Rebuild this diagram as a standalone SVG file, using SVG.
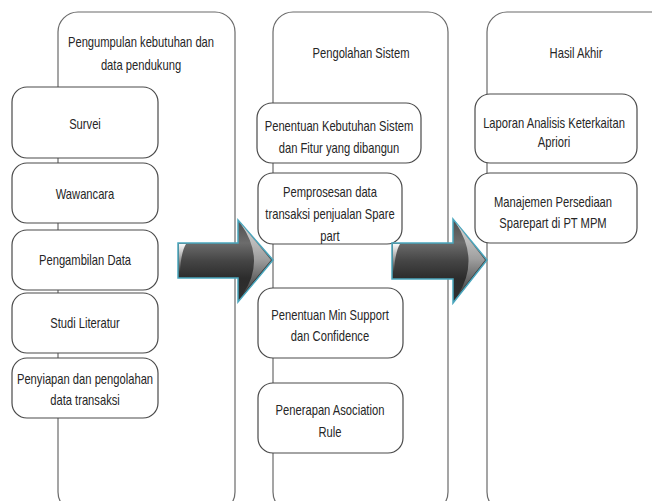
<svg xmlns="http://www.w3.org/2000/svg" width="652" height="501" viewBox="0 0 652 501">
  <style>
    .col { fill: #ffffff; stroke: #6a6a6a; stroke-width: 1.2; }
    .box { fill: #ffffff; stroke: #4a4a4a; stroke-width: 1.2; }
    text { font-family: "Liberation Sans", Arial, sans-serif; font-size: 14px; fill: #262626; text-anchor: middle; }
    .arrow { fill: url(#arrowFill); stroke: #4aa6bd; stroke-width: 1.5; stroke-linejoin: miter; }
    .streak { fill: url(#streakFill); }
    .crescent { fill: url(#crescentFill); }
  </style>
  <defs>
    <linearGradient id="arrowFill" x1="0" y1="0" x2="0" y2="1">
      <stop offset="0" stop-color="#4e4e4e"/>
      <stop offset="0.28" stop-color="#6c6c6c"/>
      <stop offset="0.5" stop-color="#454545"/>
      <stop offset="0.71" stop-color="#2c2c2c"/>
      <stop offset="1" stop-color="#303030"/>
    </linearGradient>
    <linearGradient id="streakFill" x1="0" y1="0" x2="0" y2="1">
      <stop offset="0" stop-color="#ffffff" stop-opacity="0.95"/>
      <stop offset="1" stop-color="#ffffff" stop-opacity="0"/>
    </linearGradient>
    <linearGradient id="crescentFill" x1="0" y1="0" x2="0" y2="1">
      <stop offset="0" stop-color="#dedede" stop-opacity="0.95"/>
      <stop offset="0.5" stop-color="#a8a8a8" stop-opacity="0.9"/>
      <stop offset="1" stop-color="#666666" stop-opacity="0.5"/>
    </linearGradient>
  </defs>

  <!-- columns -->
  <g id="col-pengumpulan">
    <rect class="col" x="58" y="12" width="177" height="500" rx="20" ry="20"/>
    <text transform="translate(141,47) scale(0.8,1)">Pengumpulan kebutuhan dan</text>
    <text transform="translate(141,70) scale(0.8,1)">data pendukung</text>
  </g>
  <g id="col-pengolahan">
    <rect class="col" x="273" y="12" width="175" height="500" rx="20" ry="20"/>
    <text transform="translate(361,58) scale(0.8,1)">Pengolahan Sistem</text>
  </g>
  <g id="col-hasil">
    <rect class="col" x="487" y="12" width="200" height="500" rx="20" ry="20"/>
    <text transform="translate(576,58) scale(0.8,1)">Hasil Akhir</text>
  </g>

  <!-- column 1 boxes -->
  <g id="survei">
    <rect class="box" x="12" y="87" width="146" height="71" rx="15" ry="15"/>
    <text transform="translate(85,129) scale(0.8,1)">Survei</text>
  </g>
  <g id="wawancara">
    <rect class="box" x="12" y="163" width="146" height="60" rx="15" ry="15"/>
    <text transform="translate(85,199) scale(0.8,1)">Wawancara</text>
  </g>
  <g id="pengambilan">
    <rect class="box" x="12" y="230" width="146" height="60" rx="15" ry="15"/>
    <text transform="translate(85,265) scale(0.8,1)">Pengambilan Data</text>
  </g>
  <g id="studi">
    <rect class="box" x="12" y="293" width="146" height="60" rx="15" ry="15"/>
    <text transform="translate(85,328) scale(0.8,1)">Studi Literatur</text>
  </g>
  <g id="penyiapan">
    <rect class="box" x="12" y="358" width="146" height="60" rx="15" ry="15"/>
    <text transform="translate(85,384) scale(0.8,1)">Penyiapan dan pengolahan</text>
    <text transform="translate(85,405) scale(0.8,1)">data transaksi</text>
  </g>

  <!-- column 2 boxes -->
  <g id="penentuan-kebutuhan">
    <rect class="box" x="257" y="103" width="164" height="60" rx="15" ry="15"/>
    <text transform="translate(339,131) scale(0.8,1)">Penentuan Kebutuhan Sistem</text>
    <text transform="translate(339,153) scale(0.8,1)">dan Fitur yang dibangun</text>
  </g>
  <g id="pemprosesan">
    <rect class="box" x="258" y="173" width="144" height="71" rx="15" ry="15"/>
    <text transform="translate(330,197) scale(0.8,1)">Pemprosesan data</text>
    <text transform="translate(330,219) scale(0.8,1)">transaksi penjualan Spare</text>
    <text transform="translate(330,241) scale(0.8,1)">part</text>
  </g>
  <g id="min-support">
    <rect class="box" x="258" y="288" width="145" height="70" rx="15" ry="15"/>
    <text transform="translate(330,320) scale(0.8,1)">Penentuan Min Support</text>
    <text transform="translate(330,341) scale(0.8,1)">dan Confidence</text>
  </g>
  <g id="asociation">
    <rect class="box" x="258" y="383" width="145" height="70" rx="15" ry="15"/>
    <text transform="translate(330,415) scale(0.8,1)">Penerapan Asociation</text>
    <text transform="translate(330,437) scale(0.8,1)">Rule</text>
  </g>

  <!-- column 3 boxes -->
  <g id="laporan">
    <rect class="box" x="475" y="94" width="162" height="69" rx="15" ry="15"/>
    <text transform="translate(554,128) scale(0.8,1)">Laporan Analisis Keterkaitan</text>
    <text transform="translate(554,147) scale(0.8,1)">Apriori</text>
  </g>
  <g id="manajemen">
    <rect class="box" x="475" y="173" width="162" height="70" rx="15" ry="15"/>
    <text transform="translate(553,207) scale(0.8,1)">Manajemen Persediaan</text>
    <text transform="translate(553,228) scale(0.8,1)">Sparepart di PT MPM</text>
  </g>

  <!-- connectors -->
  <g id="connectors">
    <g id="arrow1">
      <path class="arrow" d="M178,243 L238,243 L238,220 L273,260 L238,302 L238,278 L178,278 Z"/>
      <path class="streak" d="M179,244 L186,244 Q181,252 180,272 L179,272 Z"/>
      <path class="crescent" d="M241,224 L271,260 L243,294 Q266,260 241,224 Z"/>
    </g>
    <g id="arrow2">
      <path class="arrow" d="M392,243 L453,243 L453,219 L487,260 L453,303 L453,279 L392,279 Z"/>
      <path class="streak" d="M393,244 L400,244 Q395,252 394,272 L393,272 Z"/>
      <path class="crescent" d="M456,223 L485,260 L458,295 Q480,260 456,223 Z"/>
    </g>
  </g>
</svg>
